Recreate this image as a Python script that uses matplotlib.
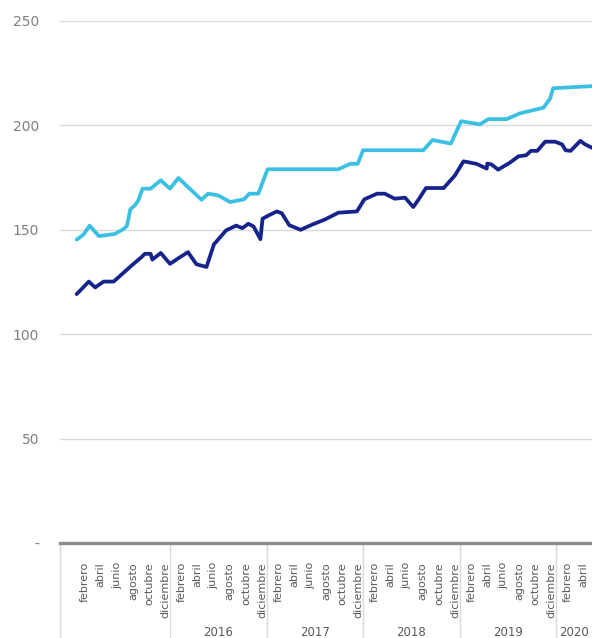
import matplotlib
matplotlib.use("Agg")
import matplotlib.pyplot as plt
import pandas as pd

# serie clara
fechas_clara = ["2015-01-14", "2015-02-08", "2015-03-04", "2015-04-08", "2015-06-07",
                "2015-07-08", "2015-07-23", "2015-08-05", "2015-08-22", "2015-09-04",
                "2015-09-20", "2015-10-21", "2015-11-28", "2016-01-02", "2016-02-03",
                "2016-04-30", "2016-05-25", "2016-07-02", "2016-08-16", "2016-10-08",
                "2016-10-28", "2016-12-01", "2017-01-05", "2017-09-30", "2017-11-14",
                "2017-12-12", "2018-01-01", "2018-08-17", "2018-09-21", "2018-11-29",
                "2019-01-07", "2019-03-19", "2019-04-20", "2019-06-28", "2019-08-18",
                "2019-11-15", "2019-12-10", "2019-12-21", "2020-05-16"]
valores_clara = [145.3, 147.6, 152.0, 147.0, 148.0,
                 150.2, 151.8, 159.8, 161.7, 164.0,
                 169.7, 169.7, 173.7, 169.7, 174.8,
                 164.4, 167.3, 166.5, 163.3, 164.6,
                 167.3, 167.3, 179.0, 179.0, 181.6,
                 181.6, 188.1, 188.1, 193.0, 191.3,
                 202.0, 200.5, 203.0, 203.0, 205.8,
                 208.5, 213.0, 217.8, 218.8]

# serie oscura
fechas_oscura = ["2015-01-14", "2015-03-01", "2015-03-25", "2015-04-26", "2015-06-03",
                 "2015-08-09", "2015-09-16", "2015-09-29", "2015-10-21", "2015-10-27",
                 "2015-11-28", "2016-01-02", "2016-02-09", "2016-03-10", "2016-04-11",
                 "2016-05-19", "2016-06-16", "2016-08-01", "2016-09-08", "2016-10-02",
                 "2016-10-24", "2016-11-13", "2016-12-09", "2016-12-17", "2017-01-09",
                 "2017-02-09", "2017-02-28", "2017-03-28", "2017-05-10", "2017-06-21",
                 "2017-08-11", "2017-09-30", "2017-12-09", "2018-01-06", "2018-02-23",
                 "2018-03-24", "2018-05-01", "2018-06-09", "2018-07-10", "2018-07-28",
                 "2018-08-27", "2018-11-02", "2018-12-15", "2019-01-16", "2019-03-06",
                 "2019-04-14", "2019-04-16", "2019-05-02", "2019-05-27", "2019-07-11",
                 "2019-08-12", "2019-09-10", "2019-09-28", "2019-10-22", "2019-11-21",
                 "2019-12-28", "2020-01-24", "2020-02-06", "2020-02-25", "2020-04-02",
                 "2020-04-20", "2020-05-16"]
valores_oscura = [119.2, 125.2, 122.4, 125.2, 125.2,
                  132.8, 136.9, 138.5, 138.5, 135.7,
                  138.9, 133.7, 136.9, 139.3, 133.5,
                  132.2, 143.0, 149.7, 152.0, 150.8,
                  152.9, 151.6, 145.5, 155.3, 156.9,
                  158.8, 157.9, 152.2, 150.0, 152.4,
                  155.0, 158.2, 158.8, 164.6, 167.3,
                  167.3, 164.9, 165.4, 160.9, 164.1,
                  170.0, 170.0, 176.1, 182.8, 181.6,
                  179.3, 181.7, 181.3, 178.8, 182.2,
                  185.2, 185.7, 187.8, 187.8, 192.2,
                  192.2, 190.9, 188.1, 187.8, 192.6,
                  190.9, 189.3]

meses = ["febrero", "abril", "junio", "agosto", "octubre", "diciembre"]
meses_num = [2, 4, 6, 8, 10, 12]
anios = [2015, 2016, 2017, 2018, 2019, 2020]
anios_etiqueta = ["", "2016", "2017", "2018", "2019", "2020"]
y_ticks = [0, 50, 100, 150, 200, 250]
y_labels = ["-", "50", "100", "150", "200", "250"]

inicio = pd.Timestamp("2014-11-12")
fin = pd.Timestamp("2020-05-16")

color_clara = "#3bbfe2"
color_oscura = "#16238a"
gris_texto = "#595959"

fig = plt.figure(figsize=(5.92, 6.38), dpi=100)
ax = fig.add_axes([60 / 592, 95 / 638, 532 / 592, 522 / 638])

ax.plot(pd.to_datetime(fechas_clara), valores_clara, color=color_clara, lw=2.7,
        solid_joinstyle="round", solid_capstyle="round", zorder=3)
ax.plot(pd.to_datetime(fechas_oscura), valores_oscura, color=color_oscura, lw=2.7,
        solid_joinstyle="round", solid_capstyle="round", zorder=4)

ax.set_xlim(inicio, fin)
ax.set_ylim(0, 250)
ax.set_yticks(y_ticks, y_labels)
ax.set_xticks([])
ax.tick_params(axis="y", length=0, pad=15, labelsize=10, labelcolor="#7f7f7f")
ax.yaxis.grid(True, color="#d9d9d9", lw=1)
ax.set_axisbelow(True)
for s in ["top", "right", "left"]:
    ax.spines[s].set_visible(False)
ax.spines["bottom"].set_color("#8c8c8c")
ax.spines["bottom"].set_linewidth(2.4)
ax.spines["bottom"].set_zorder(5)

# etiquetas de meses
for anio in anios:
    for nombre, num in zip(meses, meses_num):
        fecha = pd.Timestamp(anio, num, 15)
        if fecha < inicio:
            continue
        ax.annotate(nombre, xy=(fecha, 0), xycoords=("data", "axes fraction"),
                    xytext=(0, -19), textcoords="offset pixels", rotation=90,
                    ha="center", va="top", fontsize=8, color=gris_texto,
                    annotation_clip=False)

# separadores y años
cortes = [inicio] + [pd.Timestamp(a, 1, 1) for a in anios[1:]]
for d in cortes:
    ax.plot([d, d], [0, -0.2], transform=ax.get_xaxis_transform(), clip_on=False,
            color="#d9d9d9", lw=1, zorder=1)
for anio, etiqueta in zip(anios, anios_etiqueta):
    a = max(pd.Timestamp(anio, 1, 1), inicio)
    b = min(pd.Timestamp(anio + 1, 1, 1), fin)
    centro = a + (b - a) / 2
    ax.annotate(etiqueta, xy=(centro, 0), xycoords=("data", "axes fraction"),
                xytext=(0, -90), textcoords="offset pixels", ha="center", va="center",
                fontsize=8.5, color=gris_texto, annotation_clip=False)

fig.savefig("out.png", dpi=100)
